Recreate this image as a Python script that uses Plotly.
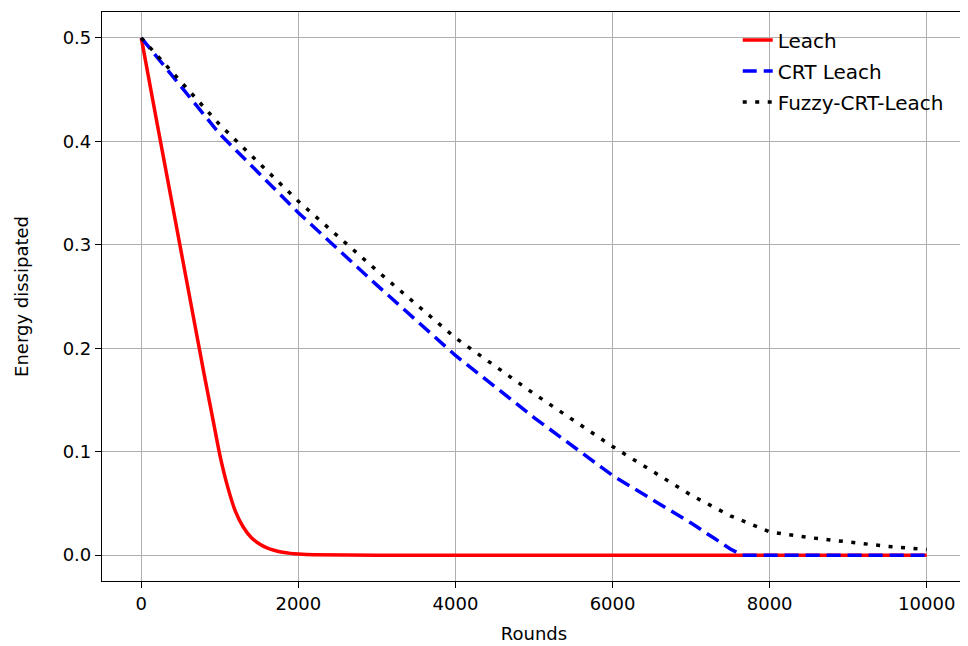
import plotly.graph_objects as go

# ---- data ----
leach_x = [0, 200, 400, 600, 800, 900, 1000, 1100, 1200, 1300, 1400, 1500, 1600, 1700,
           1800, 1900, 2000, 2200, 3000, 4000, 5000, 6000, 7000, 8000, 9000, 10000]
leach_y = [0.5, 0.418, 0.337, 0.256, 0.175, 0.136, 0.097, 0.066, 0.042, 0.027, 0.017,
           0.011, 0.007, 0.0045, 0.0028, 0.0017, 0.001, 0.0003, 0, 0, 0, 0, 0, 0, 0, 0]

crt_x = [0, 1000, 2000, 3000, 4000, 5000, 6000, 7000, 7300, 7500, 7650, 8000, 9000, 10000]
crt_y = [0.5, 0.407, 0.331, 0.261, 0.193, 0.133, 0.077, 0.031, 0.016, 0.006, 0, 0, 0, 0]

fuzzy_x = [0, 1000, 2000, 3000, 4000, 5000, 6000, 7000, 7500, 8000, 8500, 9000, 9500, 10000]
fuzzy_y = [0.5, 0.416, 0.342, 0.275, 0.210, 0.156, 0.105, 0.058, 0.038, 0.0225, 0.017,
           0.0128, 0.0085, 0.0055]

x_ticks = [0, 2000, 4000, 6000, 8000, 10000]
x_tick_labels = ["0", "2000", "4000", "6000", "8000", "10000"]
y_ticks = [0.0, 0.1, 0.2, 0.3, 0.4, 0.5]
y_tick_labels = ["0.0", "0.1", "0.2", "0.3", "0.4", "0.5"]

FONT = "DejaVu Sans"

fig = go.Figure()
fig.add_trace(go.Scatter(x=leach_x, y=leach_y, mode="lines", name="Leach",
                         legendgroup="a", line_shape="spline",
                         line=dict(color="#ff0000", width=3.5, smoothing=0.6)))
fig.add_trace(go.Scatter(x=crt_x, y=crt_y, mode="lines", name="CRT Leach",
                         legendgroup="b",
                         line=dict(color="#0000ff", width=3.5, dash="14px,7px")))
fig.add_trace(go.Scatter(x=fuzzy_x, y=fuzzy_y, mode="lines", name="Fuzzy-CRT-Leach",
                         legendgroup="c",
                         line=dict(color="#000000", width=3.5, dash="4px,8.5px")))

axis_common = dict(
    showline=True, linecolor="black", linewidth=1.2, mirror=True,
    ticks="outside", ticklen=6, tickwidth=1.2, tickcolor="black",
    showgrid=True, gridcolor="#b0b0b0", gridwidth=1,
    zeroline=False, automargin=False,
    tickfont=dict(family=FONT, size=18, color="black"),
)

fig.update_xaxes(range=[-500, 10500], tickvals=x_ticks, ticktext=x_tick_labels,
                 title=dict(text="Rounds", font=dict(family=FONT, size=18, color="black"),
                            standoff=14),
                 **axis_common)
fig.update_yaxes(range=[-0.025, 0.525], tickvals=y_ticks, ticktext=y_tick_labels,
                 title=dict(text="Energy dissipated", font=dict(family=FONT, size=18, color="black"),
                            standoff=29),
                 **axis_common)

# page body has an 8px margin, so the figure is sized to the visible area
fig.update_layout(
    width=960, height=638,
    margin=dict(l=94, r=2, t=4, b=65),
    paper_bgcolor="white", plot_bgcolor="white",
    font=dict(family=FONT, size=18, color="black"),
    showlegend=True,
    legend=dict(x=0.98, y=0.985, xanchor="right", yanchor="top",
                bgcolor="rgba(0,0,0,0)", borderwidth=0,
                font=dict(family=FONT, size=20, color="black"),
                tracegroupgap=2),
)

fig.write_html("out.html")
